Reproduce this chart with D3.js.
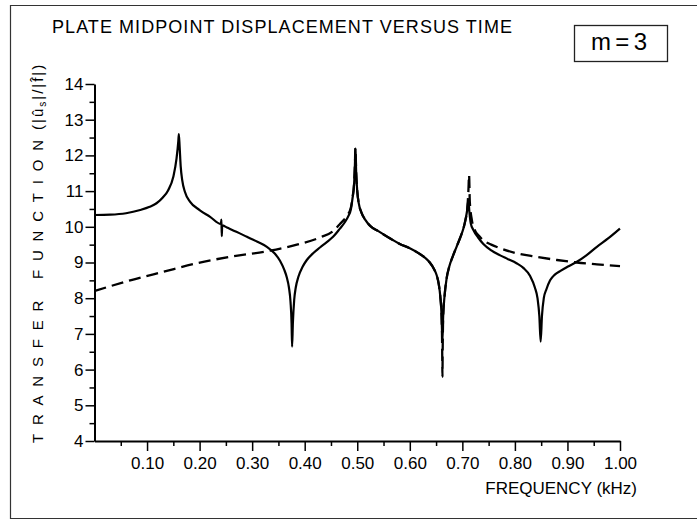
<!DOCTYPE html>
<html>
<head>
<meta charset="utf-8">
<script src="https://cdn.jsdelivr.net/npm/d3@7"></script>
<style>
  html, body { margin: 0; padding: 0; background: #fff; }
  svg { display: block; }
  text { font-family: "Liberation Sans", Arial, sans-serif; fill: #000; }
</style>
</head>
<body>
<svg id="chart" width="697" height="520"></svg>
<script>
// ---------------- data ----------------
const solidFreq = [0.000,0.030,0.060,0.087,0.105,0.118,0.130,0.140,0.150,0.156,0.1595,0.1605,0.162,0.164,0.167,0.172,0.182,0.200,0.220,0.2405,0.2415,0.2422,0.2430,0.252,0.270,0.290,0.310,0.328,0.343,0.353,0.361,0.366,0.370,0.373,0.3750,0.3760,0.3775,0.380,0.383,0.388,0.396,0.404,0.416,0.429,0.442,0.454,0.467,0.476,0.483,0.488,0.491,0.494,0.4955,0.4965,0.498,0.500,0.503,0.508,0.515,0.525,0.540,0.562,0.581,0.600,0.619,0.630,0.638,0.646,0.651,0.655,0.658,0.6605,0.6620,0.6635,0.666,0.670,0.675,0.682,0.689,0.696,0.702,0.706,0.709,0.7115,0.7135,0.716,0.721,0.730,0.740,0.755,0.772,0.786,0.803,0.816,0.829,0.838,0.843,0.8465,0.849,0.8515,0.855,0.860,0.867,0.876,0.886,0.900,0.918,0.936,0.956,0.978,1.000];
const solidVal  = [10.33,10.34,10.38,10.47,10.56,10.66,10.82,11.02,11.40,11.90,12.40,12.60,12.25,11.70,11.30,10.98,10.70,10.47,10.28,10.08,10.20,9.74,10.04,9.98,9.86,9.72,9.58,9.44,9.25,9.05,8.80,8.58,8.30,7.90,7.30,6.64,7.30,7.95,8.30,8.60,8.88,9.07,9.26,9.42,9.57,9.72,9.95,10.12,10.30,10.50,10.80,11.20,11.70,12.20,11.50,11.00,10.65,10.40,10.20,10.02,9.88,9.68,9.52,9.40,9.24,9.12,9.00,8.82,8.65,8.40,8.05,7.50,6.80,7.50,8.04,8.55,8.88,9.18,9.44,9.70,9.95,10.20,10.45,10.75,10.40,10.10,9.91,9.70,9.52,9.34,9.20,9.10,8.98,8.85,8.62,8.30,8.00,7.50,6.78,7.50,8.00,8.25,8.50,8.66,8.76,8.88,9.02,9.20,9.44,9.68,9.95];

const dashFreq = [0.000,0.068,0.131,0.195,0.258,0.334,0.385,0.429,0.454,0.467,0.480,0.488,0.491,0.494,0.4955,0.4965,0.498,0.500,0.503,0.508,0.515,0.525,0.540,0.562,0.581,0.600,0.619,0.630,0.638,0.646,0.651,0.655,0.658,0.6605,0.6616,0.6621,0.6626,0.6635,0.666,0.670,0.675,0.682,0.689,0.696,0.702,0.706,0.709,0.7115,0.7128,0.7142,0.718,0.724,0.732,0.740,0.755,0.772,0.803,0.841,0.880,0.918,0.956,1.000];
const dashVal  = [8.20,8.50,8.74,8.98,9.16,9.33,9.50,9.70,9.88,10.08,10.30,10.55,10.82,11.22,11.70,12.20,11.50,11.00,10.65,10.40,10.20,10.02,9.88,9.68,9.52,9.40,9.24,9.12,9.00,8.82,8.65,8.40,8.05,7.50,6.60,5.80,6.60,7.50,8.04,8.55,8.88,9.18,9.44,9.70,9.95,10.20,10.45,11.00,11.45,10.70,10.20,9.90,9.74,9.62,9.50,9.40,9.26,9.16,9.07,9.00,8.95,8.90];

const xTickValues = [0.10,0.20,0.30,0.40,0.50,0.60,0.70,0.80,0.90,1.00];
const xMinorTicks = [0.05,0.15,0.25,0.35,0.45,0.55,0.65,0.75,0.85,0.95];
const yTickValues = [4,5,6,7,8,9,10,11,12,13,14];
const yMinorTicks = [4.5,5.5,6.5,7.5,8.5,9.5,10.5,11.5,12.5,13.5];

const titleText = "PLATE MIDPOINT DISPLACEMENT VERSUS TIME";
const boxText = "m=3";
const xLabel = "FREQUENCY (kHz)";
const yLabelMain = "TRANSFER FUNCTION";

// ---------------- drawing ----------------
const svg = d3.select("#chart");

const x = d3.scaleLinear().domain([0, 1]).range([94.5, 620]);
const y = d3.scaleLinear().domain([4, 14]).range([441, 84]);

// frame (left, top, bottom)
svg.append("path")
  .attr("d", "M697,5.5 L10.5,5.5 L10.5,518.5 L697,518.5")
  .attr("fill", "none").attr("stroke", "#333").attr("stroke-width", 1.2);

// title
svg.append("text")
  .attr("x", 52).attr("y", 33)
  .attr("font-size", 18)
  .attr("textLength", 460).attr("lengthAdjust", "spacing")
  .text(titleText);

// m = 3 box
svg.append("rect")
  .attr("x", 574.5).attr("y", 25.5).attr("width", 93).attr("height", 36)
  .attr("fill", "none").attr("stroke", "#222").attr("stroke-width", 1.3);
svg.append("text")
  .attr("x", 591).attr("y", 50)
  .attr("font-size", 24)
  .attr("textLength", 56).attr("lengthAdjust", "spacing")
  .text(boxText);

// axes
const axisStyle = g => {
  g.selectAll("path.domain").attr("stroke", "#000").attr("stroke-width", 2);
  g.selectAll(".tick line").attr("stroke", "#000").attr("stroke-width", 1.5);
  g.selectAll(".tick text").attr("font-size", 17).attr("font-family", "Liberation Sans, Arial, sans-serif").attr("fill", "#000");
};

svg.append("g")
  .attr("transform", `translate(0,${y(4)})`)
  .call(d3.axisBottom(x).tickValues(xTickValues).tickSize(10).tickSizeOuter(0).tickPadding(6).tickFormat(d3.format(".2f")))
  .call(axisStyle);
svg.append("g")
  .attr("transform", `translate(0,${y(4)})`)
  .call(d3.axisBottom(x).tickValues(xMinorTicks).tickSize(5).tickSizeOuter(0).tickFormat(""))
  .call(g => g.select("path.domain").remove())
  .call(axisStyle);

svg.append("g")
  .attr("transform", `translate(${x(0)},0)`)
  .call(d3.axisLeft(y).tickValues(yTickValues).tickSize(9).tickSizeOuter(0).tickPadding(2).tickFormat(d3.format("d")))
  .call(axisStyle);
svg.append("g")
  .attr("transform", `translate(${x(0)},0)`)
  .call(d3.axisLeft(y).tickValues(yMinorTicks).tickSize(5).tickSizeOuter(0).tickFormat(""))
  .call(g => g.select("path.domain").remove())
  .call(axisStyle);

// x label
svg.append("text")
  .attr("x", 637).attr("y", 494)
  .attr("text-anchor", "end")
  .attr("font-size", 17)
  .text(xLabel);

// y label (rotated)
const yl = svg.append("g").attr("transform", "translate(43,443) rotate(-90)");
yl.append("text")
  .attr("x", 0).attr("y", 0)
  .attr("font-size", 15)
  .attr("textLength", 303).attr("lengthAdjust", "spacing")
  .text(yLabelMain);
const yl2 = yl.append("text")
  .attr("x", 313).attr("y", 0)
  .attr("font-size", 15)
  .attr("letter-spacing", 2);
yl2.append("tspan").text("(|\u00FB");
yl2.append("tspan").attr("font-size", 10).attr("dy", 3).text("s");
yl2.append("tspan").attr("dy", -3).text("|/|f\u0302|)");

// curves
const line = d3.line()
  .x(d => x(d[0]))
  .y(d => y(d[1]))
  .curve(d3.curveMonotoneX);

const solidData = solidFreq.map((f, i) => [f, solidVal[i]]);
const dashData = dashFreq.map((f, i) => [f, dashVal[i]]);

svg.append("path")
  .datum(solidData)
  .attr("d", line)
  .attr("fill", "none").attr("stroke", "#000").attr("stroke-width", 2.2)
  .attr("stroke-linejoin", "round");

svg.append("path")
  .datum(dashData)
  .attr("d", line)
  .attr("fill", "none").attr("stroke", "#000").attr("stroke-width", 2.3)
  .attr("stroke-dasharray", "12,6");
</script>
</body>
</html>
